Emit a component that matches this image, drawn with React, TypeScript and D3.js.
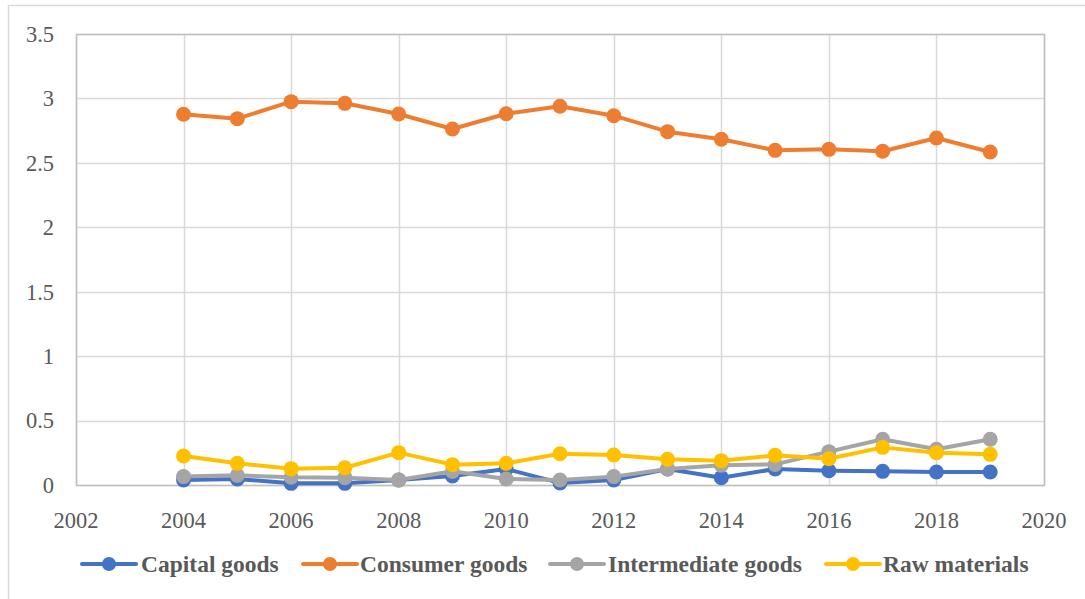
import React from "react";
import * as d3 from "d3";

const years = [2004, 2005, 2006, 2007, 2008, 2009, 2010, 2011, 2012, 2013, 2014, 2015, 2016, 2017, 2018, 2019];
const capitalGoods = [0.039, 0.047, 0.013, 0.013, 0.039, 0.07, 0.124, 0.016, 0.039, 0.124, 0.057, 0.124, 0.111, 0.106, 0.101, 0.101];
const consumerGoods = [2.877, 2.843, 2.975, 2.962, 2.879, 2.763, 2.881, 2.939, 2.866, 2.742, 2.683, 2.597, 2.605, 2.59, 2.693, 2.584];
const intermediateGoods = [0.065, 0.075, 0.06, 0.057, 0.039, 0.106, 0.047, 0.039, 0.065, 0.124, 0.153, 0.16, 0.259, 0.355, 0.277, 0.355];
const rawMaterials = [0.225, 0.168, 0.127, 0.134, 0.251, 0.158, 0.168, 0.243, 0.233, 0.199, 0.189, 0.23, 0.204, 0.292, 0.251, 0.238];
const seriesNames = ["Capital goods", "Consumer goods", "Intermediate goods", "Raw materials"];
const seriesColors = ["#4472C4", "#ED7D31", "#A5A5A5", "#FFC000"];
const xTicks = [2002, 2004, 2006, 2008, 2010, 2012, 2014, 2016, 2018, 2020];
const yTicks = [0, 0.5, 1, 1.5, 2, 2.5, 3, 3.5];

const seriesData = [capitalGoods, consumerGoods, intermediateGoods, rawMaterials];

export default function App() {
  const W = 1085, H = 599;
  const left = 76, right = 1044, top = 34, bottom = 485;
  const x = d3.scaleLinear().domain([2002, 2020]).range([left, right]);
  const y = d3.scaleLinear().domain([0, 3.5]).range([bottom, top]);
  const line = d3.line<number>().x((_, i) => x(years[i])).y((d) => y(d));
  const font = "'Liberation Serif', 'Times New Roman', serif";
  const textColor = "#595959";

  const legendItems = [
    { lineX: 82, textX: 141 },
    { lineX: 303, textX: 360 },
    { lineX: 550, textX: 608 },
    { lineX: 826, textX: 883 },
  ];
  const legendY = 564;

  return (
    <svg width={W} height={H} style={{ position: "absolute", left: 0, top: 0, background: "#fff" }}>
      <rect x={8.5} y={5.5} width={W} height={H} fill="#fff" stroke="#d9d9d9" strokeWidth={1.5} />
      {yTicks.map((t) => (
        <line key={"gy" + t} x1={left} x2={right} y1={Math.round(y(t)) + 0.5} y2={Math.round(y(t)) + 0.5} stroke="#d9d9d9" strokeWidth={1.5} />
      ))}
      {xTicks.map((t) => (
        <line key={"gx" + t} x1={Math.round(x(t)) + 0.5} x2={Math.round(x(t)) + 0.5} y1={top} y2={bottom} stroke="#d9d9d9" strokeWidth={1.5} />
      ))}
      <rect x={left + 0.5} y={top + 0.5} width={right - left} height={bottom - top} fill="none" stroke="#bfbfbf" strokeWidth={1.5} />
      {yTicks.map((t) => (
        <text key={"ty" + t} x={54} y={y(t)} dy="0.35em" textAnchor="end" fontFamily={font} fontSize={22.5} fill={textColor}>
          {String(t)}
        </text>
      ))}
      {xTicks.map((t) => (
        <text key={"tx" + t} x={x(t)} y={520} dy="0.35em" textAnchor="middle" fontFamily={font} fontSize={22.5} fill={textColor}>
          {String(t)}
        </text>
      ))}
      {seriesData.map((s, si) => (
        <g key={"s" + si}>
          <path d={line(s) || ""} fill="none" stroke={seriesColors[si]} strokeWidth={4} strokeLinejoin="round" strokeLinecap="round" />
          {s.map((v, i) => (
            <circle key={i} cx={x(years[i])} cy={y(v)} r={7.5} fill={seriesColors[si]} />
          ))}
        </g>
      ))}
      {legendItems.map((it, i) => (
        <g key={"l" + i}>
          <line x1={it.lineX} x2={it.lineX + 54} y1={legendY} y2={legendY} stroke={seriesColors[i]} strokeWidth={4} strokeLinecap="round" />
          <circle cx={it.lineX + 27} cy={legendY} r={7} fill={seriesColors[i]} />
          <text x={it.textX} y={legendY} dy="0.35em" fontFamily={font} fontSize={23.5} fontWeight="bold" fill={textColor}>
            {seriesNames[i]}
          </text>
        </g>
      ))}
    </svg>
  );
}
